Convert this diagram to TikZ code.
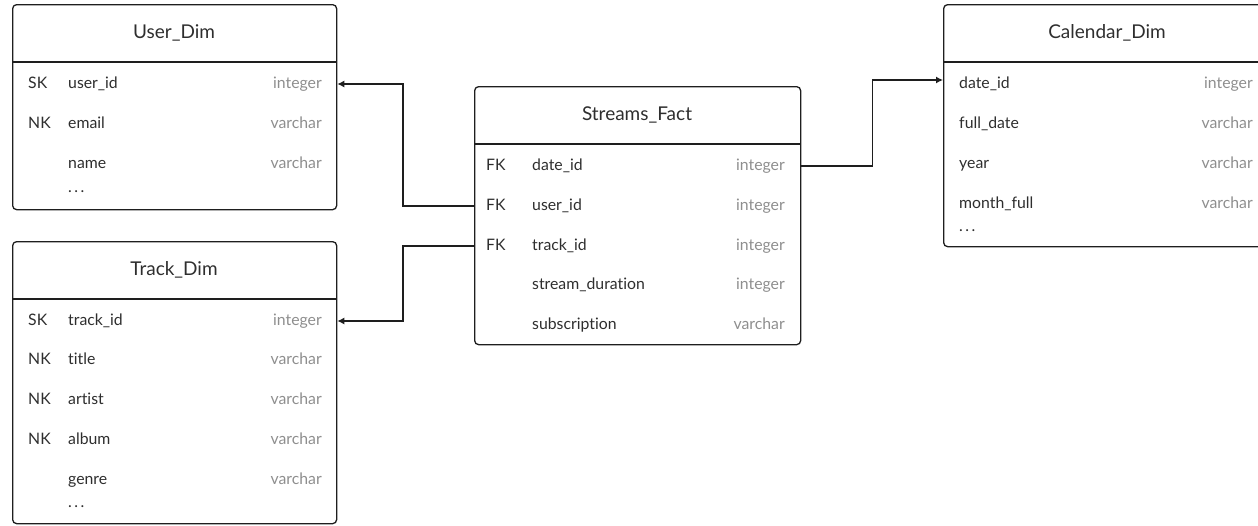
\documentclass[tikz,border=0pt]{standalone}
\usepackage{fontspec}
\setmainfont{Lato}[Ligatures=NoCommon]
\usetikzlibrary{arrows.meta}
\definecolor{ink}{HTML}{1E1E1E}
\definecolor{txt}{HTML}{2E2E2E}
\definecolor{typc}{HTML}{8E8E8E}
\newcommand{\moredots}{.\kern2.5pt.\kern2.5pt.}
\begin{document}
\begin{tikzpicture}[x=1pt,y=-1pt,
 tbl/.style={draw=ink, line width=1.3pt, rounded corners=4pt, inner sep=0pt, anchor=north west},
 hdr/.style={draw=ink, line width=1.3pt},
 ttl/.style={font=\fontsize{19}{21}\selectfont, text=txt, anchor=mid, inner sep=0pt},
 cell/.style={font=\fontsize{15.8}{17}\selectfont, text=txt, anchor=mid west, inner sep=0pt},
 typ/.style={font=\fontsize{15.8}{17}\selectfont, text=typc, anchor=mid east, inner sep=0pt},
 conn/.style={draw=ink, line width=1.3pt, -{Latex[length=7pt,width=7pt]}}
]
\useasboundingbox (0,0) rectangle (1258,525);
\begin{scope}
\clip (0,0) rectangle (1258,525);
% ---------- User_Dim
\node[tbl, minimum width=324pt, minimum height=205pt] (ud) at (12,4) {};
\draw[hdr] ([yshift=-58pt]ud.north west) -- ([yshift=-58pt]ud.north east);
\node[ttl] (udT) at (174,36) {User\_Dim};
\node[cell] (udk1) at (28,86) {SK};
\node[cell] (udf1) at (68,86) {user\_id};
\node[typ]  (udt1) at (322,86) {integer};
\node[cell] (udk2) at (28,126) {NK};
\node[cell] (udf2) at (68,126) {email};
\node[typ]  (udt2) at (322,126) {varchar};
\node[cell] (udf3) at (68,166) {name};
\node[typ]  (udt3) at (322,166) {varchar};
\node[cell] (udd) at (68,190) {\moredots};
% ---------- Track_Dim
\node[tbl, minimum width=324pt, minimum height=282pt] (td) at (12,241) {};
\draw[hdr] ([yshift=-58pt]td.north west) -- ([yshift=-58pt]td.north east);
\node[ttl] (tdT) at (174,273) {Track\_Dim};
\node[cell] (tdk1) at (28,323) {SK};
\node[cell] (tdf1) at (68,323) {track\_id};
\node[typ]  (tdt1) at (322,323) {integer};
\node[cell] (tdk2) at (28,362) {NK};
\node[cell] (tdf2) at (68,362) {title};
\node[typ]  (tdt2) at (322,362) {varchar};
\node[cell] (tdk3) at (28,402) {NK};
\node[cell] (tdf3) at (68,402) {artist};
\node[typ]  (tdt3) at (322,402) {varchar};
\node[cell] (tdk4) at (28,442) {NK};
\node[cell] (tdf4) at (68,442) {album};
\node[typ]  (tdt4) at (322,442) {varchar};
\node[cell] (tdf5) at (68,482) {genre};
\node[typ]  (tdt5) at (322,482) {varchar};
\node[cell] (tdd) at (68,505) {\moredots};
% ---------- Streams_Fact
\node[tbl, minimum width=326pt, minimum height=258pt] (sf) at (474,86) {};
\draw[hdr] ([yshift=-58pt]sf.north west) -- ([yshift=-58pt]sf.north east);
\node[ttl] (sfT) at (637,118) {Streams\_Fact};
\node[cell] (sfk1) at (486,168) {FK};
\node[cell] (sff1) at (532,168) {date\_id};
\node[typ]  (sft1) at (785,168) {integer};
\node[cell] (sfk2) at (486,208) {FK};
\node[cell] (sff2) at (532,208) {user\_id};
\node[typ]  (sft2) at (785,208) {integer};
\node[cell] (sfk3) at (486,248) {FK};
\node[cell] (sff3) at (532,248) {track\_id};
\node[typ]  (sft3) at (785,248) {integer};
\node[cell] (sff4) at (532,287) {stream\_duration};
\node[typ]  (sft4) at (785,287) {integer};
\node[cell] (sff5) at (532,327) {subscription};
\node[typ]  (sft5) at (785,327) {varchar};
% ---------- Calendar_Dim
\node[tbl, minimum width=327pt, minimum height=242pt] (cd) at (943,4) {};
\draw[hdr] ([yshift=-58pt]cd.north west) -- ([yshift=-58pt]cd.north east);
\node[ttl] (cdT) at (1107,36) {Calendar\_Dim};
\node[cell] (cdf1) at (959,86) {date\_id};
\node[typ]  (cdt1) at (1253,86) {integer};
\node[cell] (cdf2) at (959,126) {full\_date};
\node[typ]  (cdt2) at (1253,126) {varchar};
\node[cell] (cdf3) at (959,166) {year};
\node[typ]  (cdt3) at (1253,166) {varchar};
\node[cell] (cdf4) at (959,206) {month\_full};
\node[typ]  (cdt4) at (1253,206) {varchar};
\node[cell] (cdd) at (959,229) {\moredots};
% ---------- connectors (arrows at the row centres)
\draw[conn] (sf.west |- 0,206) -- ++(-71,0) |- (ud.east |- 0,84);
\draw[conn] (sf.west |- 0,246) -- ++(-71,0) |- (td.east |- 0,321);
\draw[conn] (sf.east |- 0,166) -- ++(71,0) |- (cd.west |- 0,80);
\end{scope}
\end{tikzpicture}
\end{document}
